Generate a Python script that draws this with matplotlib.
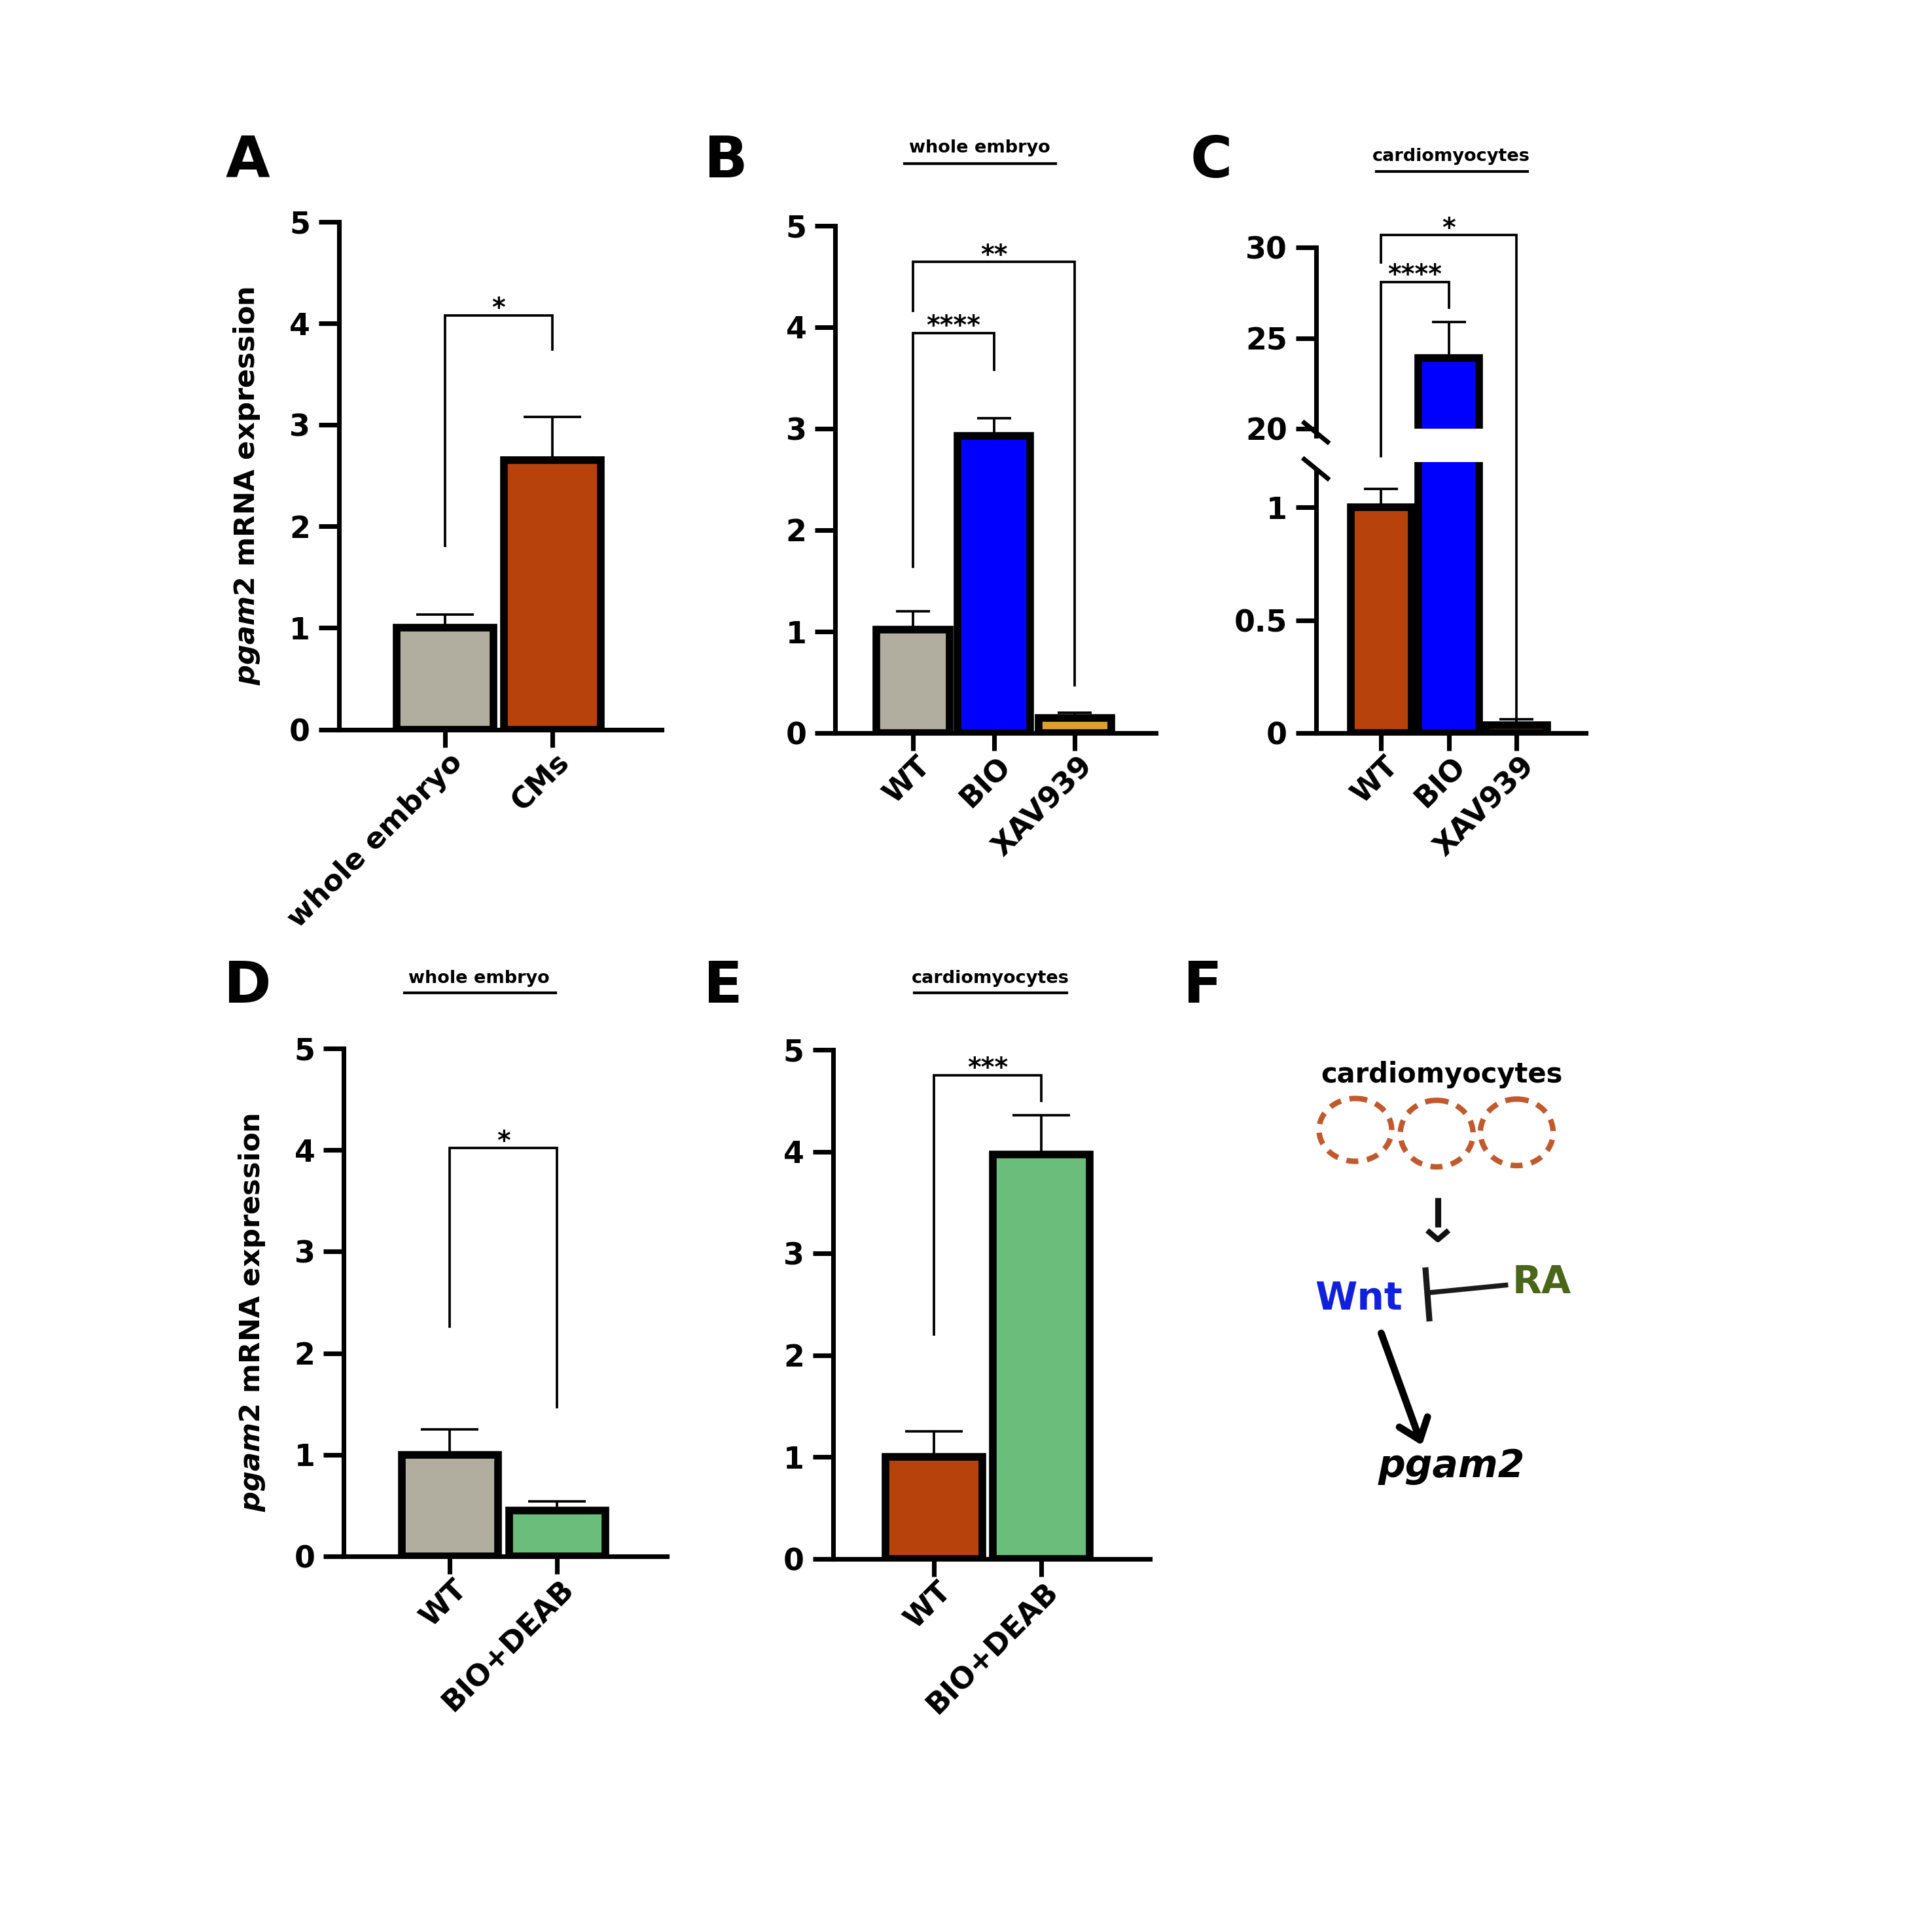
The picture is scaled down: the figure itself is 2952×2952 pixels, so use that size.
import matplotlib
matplotlib.use('Agg')
import matplotlib.pyplot as plt
from matplotlib.lines import Line2D
from matplotlib.patches import Ellipse
from matplotlib.transforms import ScaledTranslation
import numpy as np

plt.rcParams['font.family'] = ['DejaVu Sans']
plt.rcParams['font.weight'] = 'bold'
plt.rcParams['mathtext.fontset'] = 'custom'
plt.rcParams['mathtext.it'] = 'DejaVu Sans:italic:bold'
plt.rcParams['mathtext.rm'] = 'DejaVu Sans:bold'

# ---------------- data ----------------
a_cats = ['whole embryo', 'CMs']
a_vals = [1.0, 2.65]
a_err = [0.13, 0.43]

b_cats = ['WT', 'BIO', 'XAV939']
b_vals = [1.02, 2.93, 0.15]
b_err = [0.18, 0.17, 0.05]

c_cats = ['WT', 'BIO', 'XAV939']
c_vals = [1.0, 23.9, 0.035]
c_err = [0.08, 2.0, 0.025]

d_cats = ['WT', 'BIO+DEAB']
d_vals = [1.0, 0.45]
d_err = [0.25, 0.09]

e_cats = ['WT', 'BIO+DEAB']
e_vals = [1.0, 3.97]
e_err = [0.25, 0.39]

GRAY = '#b1aea0'
RUST = '#b8420c'
BLUE = '#0000ff'
ORANGE = '#e0a030'
GREEN = '#6abd7b'

S = 1568.0
fig = plt.figure(figsize=(9.84, 9.84), dpi=300)


def rect(l, t, r, b):
    return [l / S, 1 - b / S, (r - l) / S, (b - t) / S]


def fx(x):
    return x / S


def fy(y):
    return 1 - y / S


SP_LW = 1.7
BAR_LW = 2.8
ERR_LW = 0.9
BR_LW = 0.9
TICK_FS = 11
XTICK_FS = 10.8


def style(ax):
    for s in ['top', 'right']:
        ax.spines[s].set_visible(False)
    ax.spines['left'].set_linewidth(SP_LW)
    ax.spines['bottom'].set_linewidth(SP_LW)
    ax.tick_params(axis='y', length=7.5, width=SP_LW, labelsize=TICK_FS, pad=3)
    ax.tick_params(axis='x', length=6.5, width=SP_LW, labelsize=XTICK_FS, pad=6)


def set_xlabels(ax, cats):
    ax.set_xticks(np.arange(len(cats)))
    ax.set_xticklabels(cats, rotation=45, ha='right', va='center',
                       rotation_mode='anchor', fontweight='bold')


def shift_xlabels(ax):
    off = ScaledTranslation(0.065, 0.03, fig.dpi_scale_trans)
    for lab in ax.get_xticklabels():
        lab.set_transform(lab.get_transform() + off)


def draw_bars(ax, cats, vals, errs, colors, capsize, xlim):
    x = np.arange(len(cats))
    ax.bar(x, vals, width=0.9, color=colors, edgecolor='black',
           linewidth=BAR_LW, zorder=3)
    ax.errorbar(x, vals, yerr=[np.zeros(len(vals)), errs], fmt='none',
                ecolor='black', elinewidth=ERR_LW, capsize=capsize,
                capthick=ERR_LW, zorder=2)
    ax.set_xlim(*xlim)
    set_xlabels(ax, cats)


def to_fig(ax, x, y):
    return fig.transFigure.inverted().transform(ax.transData.transform((x, y)))


def bracket(ax_top, x1, x2, ytop, leg1, leg2, label, fs=9.5):
    p1 = to_fig(leg1[0], x1, leg1[1])
    p2 = to_fig(ax_top, x1, ytop)
    p3 = to_fig(ax_top, x2, ytop)
    p4 = to_fig(leg2[0], x2, leg2[1])
    xs = [p1[0], p2[0], p3[0], p4[0]]
    ys = [p1[1], p2[1], p3[1], p4[1]]
    fig.add_artist(Line2D(xs, ys, transform=fig.transFigure, color='black',
                          lw=BR_LW, solid_joinstyle='miter'))
    fig.text((p2[0] + p3[0]) / 2, p2[1] - 0.0005, label, ha='center',
             va='baseline', fontsize=fs, fontweight='bold')


def ylabel(ax):
    ax.set_ylabel(r'$\mathit{pgam2}$ mRNA expression', fontsize=10.4,
                  fontweight='bold', labelpad=10)
    ax.yaxis.label.set_y(0.48)


def title_ul(xc, yc, x0, x1, yl, text):
    fig.text(fx(xc), fy(yc), text, ha='center', va='center', fontsize=6.5,
             fontweight='bold')
    fig.add_artist(Line2D([fx(x0), fx(x1)], [fy(yl), fy(yl)],
                          transform=fig.transFigure, color='black', lw=1.0))


def letter(x, y, t):
    fig.text(fx(x), fy(y), t, ha='center', va='center', fontsize=21,
             fontweight='bold')


# ---------------- Panel A ----------------
axA = fig.add_axes(rect(275, 180, 537, 592))
draw_bars(axA, a_cats, a_vals, a_err, [GRAY, RUST], 10.5, (-0.99, 2.02))
axA.set_ylim(0, 5)
axA.set_yticks([0, 1, 2, 3, 4, 5])
style(axA)
ylabel(axA)
bracket(axA, 0, 1, 4.08, (axA, 1.81), (axA, 3.74), '*')

# ---------------- Panel B ----------------
axB = fig.add_axes(rect(678, 183, 938, 595))
draw_bars(axB, b_cats, b_vals, b_err, [GRAY, BLUE, ORANGE], 6.2, (-0.96, 3.0))
axB.set_ylim(0, 5)
axB.set_yticks([0, 1, 2, 3, 4, 5])
style(axB)
bracket(axB, 0, 1, 3.94, (axB, 1.64), (axB, 3.58), '****')
bracket(axB, 0, 2, 4.64, (axB, 4.16), (axB, 0.47), '**')

# ---------------- Panel C (broken axis) ----------------
c_low_top = 1.2
axCl = fig.add_axes(rect(1068, 375, 1287, 595))
axCu = fig.add_axes(rect(1068, 201, 1287, 348))
for ax in (axCl, axCu):
    ax.set_xlim(-0.96, 3.02)
axCl.set_ylim(0, c_low_top)
axCu.set_ylim(20, 30)
xc = np.arange(len(c_cats))
for ax in (axCl, axCu):
    ax.bar(xc, c_vals, width=0.9, color=[RUST, BLUE, ORANGE],
           edgecolor='black', linewidth=BAR_LW, zorder=3)
    ax.errorbar(xc, c_vals, yerr=[np.zeros(3), c_err], fmt='none',
                ecolor='black', elinewidth=ERR_LW, capsize=6.2,
                capthick=ERR_LW, zorder=2)
style(axCl)
style(axCu)
axCl.set_yticks([0, 0.5, 1])
axCl.set_yticklabels(['0', '0.5', '1'])
axCu.set_yticks([20, 25, 30])
set_xlabels(axCl, c_cats)
axCu.set_xticks([])
axCu.spines['bottom'].set_visible(False)
axCl.spines['left'].set_bounds(0, 1.16)
axCu.spines['left'].set_bounds(19.6, 30)
# break marks
for (ax, yv) in ((axCu, 19.8), (axCl, 1.17)):
    p = to_fig(ax, -0.96, yv)
    d = 0.011
    fig.add_artist(Line2D([p[0] - d * 0.55, p[0] + d * 0.55],
                          [p[1] + d * 0.45, p[1] - d * 0.45],
                          transform=fig.transFigure, color='black', lw=SP_LW))
bracket(axCu, 0, 1, 28.1, (axCu, 18.5), (axCu, 26.7), '****')
bracket(axCu, 0, 2, 30.7, (axCu, 29.2), (axCl, 0.07), '*')

# ---------------- Panel D ----------------
axD = fig.add_axes(rect(279, 851, 541, 1263))
draw_bars(axD, d_cats, d_vals, d_err, [GRAY, GREEN], 10.5, (-0.99, 2.02))
axD.set_ylim(0, 5)
axD.set_yticks([0, 1, 2, 3, 4, 5])
style(axD)
ylabel(axD)
bracket(axD, 0, 1, 4.02, (axD, 2.26), (axD, 1.47), '*')

# ---------------- Panel E ----------------
axE = fig.add_axes(rect(676, 852, 933, 1265))
draw_bars(axE, e_cats, e_vals, e_err, [RUST, GREEN], 10.5, (-0.94, 2.01))
axE.set_ylim(0, 5)
axE.set_yticks([0, 1, 2, 3, 4, 5])
style(axE)
bracket(axE, 0, 1, 4.75, (axE, 2.2), (axE, 4.5), '***')

for ax in (axA, axB, axCl, axD, axE):
    shift_xlabels(ax)

# ---------------- titles & letters ----------------
title_ul(795, 120, 734, 857, 133, 'whole embryo')
title_ul(1178, 127, 1117, 1240, 139, 'cardiomyocytes')
title_ul(389, 794, 328, 451, 806, 'whole embryo')
title_ul(804, 794, 742, 866, 806, 'cardiomyocytes')

letter(201, 131, 'A')
letter(589, 131, 'B')
letter(983, 131, 'C')
letter(201, 801, 'D')
letter(587, 801, 'E')
letter(976, 801, 'F')

# ---------------- Panel F diagram ----------------
axF = fig.add_axes([0, 0, 1, 1], zorder=-1)
axF.set_xlim(0, S)
axF.set_ylim(S, 0)
axF.axis('off')
CELL = '#c05a2e'
for (cx, cy, w, h) in [(1100, 917, 59, 51), (1166, 920, 59, 54), (1231, 919, 59, 54)]:
    axF.add_patch(Ellipse((cx, cy), w, h, fill=False, edgecolor=CELL,
                          lw=2.0, linestyle=(0, (2.2, 1.6))))
axF.text(1170, 872, 'cardiomyocytes', ha='center', va='center', fontsize=10,
         fontweight='bold')
axF.plot([1167, 1167], [972, 996], color='#111111', lw=2.2, solid_capstyle='butt')
axF.plot([1160, 1167, 1174], [1000, 1006, 1000], color='#111111', lw=2.0)
axF.text(1103, 1054, 'Wnt', ha='center', va='center', fontsize=14,
         fontweight='bold', color='#1020dd')
axF.text(1251, 1041, 'RA', ha='center', va='center', fontsize=14,
         fontweight='bold', color='#4a6619')
axF.plot([1157, 1160], [1031, 1070], color='#1a1a1a', lw=2.2)
axF.plot([1161, 1222], [1049, 1043], color='#1a1a1a', lw=1.8)
axF.annotate('', xy=(1154, 1173), xytext=(1121, 1082),
             arrowprops=dict(arrowstyle='->,head_length=0.7,head_width=0.55',
                             lw=2.6, color='black', shrinkA=0, shrinkB=0))
axF.text(1178, 1190, 'pgam2', ha='center', va='center', fontsize=14,
         fontweight='bold', style='italic')

fig.savefig('out.png', dpi=300)
